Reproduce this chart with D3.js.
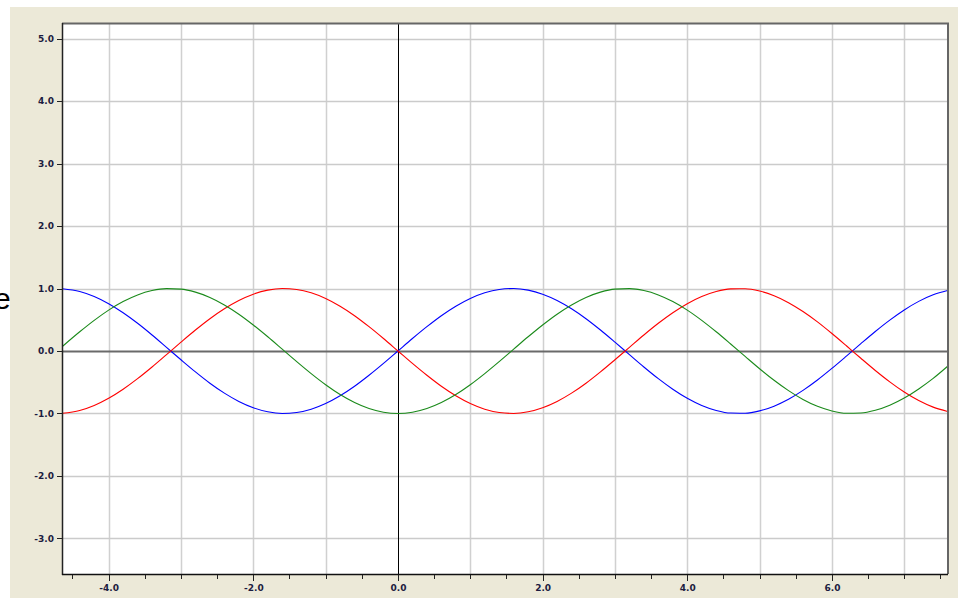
<html>
<head>
	<meta charset="utf-8">
	<title>sin / cos</title>
	<script src="https://d3js.org/d3.v7.min.js"></script>
	<style type="text/css">
		body{ margin:0; background:white; }
		.axis path{ display:none; }
		.axis line{ stroke:#222; shape-rendering:crispEdges; }
		.axis text{
			font-family:"DejaVu Sans", Verdana, sans-serif;
			font-size:9px;
			font-weight:bold;
			fill:#1c1c40;
		}
	</style>
</head>
<body>
	<script type="text/javascript">

		// values
		var xs = [-4.64,-4.4,-4.2,-4.0,-3.8,-3.6,-3.4,-3.2,-3.0,-2.8,-2.6,-2.4,-2.2,-2.0,-1.8,-1.6,-1.4,-1.2,-1.0,-0.8,-0.6,-0.4,-0.2,
			0,0.2,0.4,0.6,0.8,1.0,1.2,1.4,1.6,1.8,2.0,2.2,2.4,2.6,2.8,3.0,3.2,3.4,3.6,3.8,4.0,4.2,4.4,4.6,4.8,5.0,5.2,5.4,5.6,5.8,6.0,
			6.2,6.4,6.6,6.8,7.0,7.2,7.4,7.6];
		var blue = [0.997,0.952,0.872,0.757,0.612,0.443,0.256,0.058,-0.141,-0.335,-0.516,-0.675,-0.808,-0.909,-0.974,-1.000,-0.985,-0.932,-0.841,-0.717,-0.565,-0.389,-0.199,
			0,0.199,0.389,0.565,0.717,0.841,0.932,0.985,1.000,0.974,0.909,0.808,0.675,0.516,0.335,0.141,-0.058,-0.256,-0.443,-0.612,-0.757,-0.872,-0.952,-0.994,-0.996,-0.959,-0.883,-0.773,-0.631,-0.465,-0.279,
			-0.083,0.117,0.312,0.494,0.657,0.794,0.899,0.968];
		var red = [-0.997,-0.952,-0.872,-0.757,-0.612,-0.443,-0.256,-0.058,0.141,0.335,0.516,0.675,0.808,0.909,0.974,1.000,0.985,0.932,0.841,0.717,0.565,0.389,0.199,
			0,-0.199,-0.389,-0.565,-0.717,-0.841,-0.932,-0.985,-1.000,-0.974,-0.909,-0.808,-0.675,-0.516,-0.335,-0.141,0.058,0.256,0.443,0.612,0.757,0.872,0.952,0.994,0.996,0.959,0.883,0.773,0.631,0.465,0.279,
			0.083,-0.117,-0.312,-0.494,-0.657,-0.794,-0.899,-0.968];
		var green = [0.072,0.307,0.490,0.654,0.791,0.897,0.967,0.998,0.990,0.942,0.857,0.737,0.589,0.416,0.227,0.029,-0.170,-0.362,-0.540,-0.697,-0.825,-0.921,-0.980,
			-1.000,-0.980,-0.921,-0.825,-0.697,-0.540,-0.362,-0.170,0.029,0.227,0.416,0.589,0.737,0.857,0.942,0.990,0.998,0.967,0.897,0.791,0.654,0.490,0.307,0.112,-0.087,-0.284,-0.469,-0.635,-0.776,-0.886,-0.960,
			-0.997,-0.993,-0.950,-0.869,-0.754,-0.608,-0.439,-0.245];
		var xLabels = [-4,-2,0,2,4,6];
		var xMinor = [-4.5,-4,-3.5,-3,-2.5,-2,-1.5,-1,-0.5,0,0.5,1,1.5,2,2.5,3,3.5,4,4.5,5,5.5,6,6.5,7,7.5];
		var xGrid = [-4,-3,-2,-1,1,2,3,4,5,6,7];
		var yLabels = [-3,-2,-1,0,1,2,3,4,5];
		var yGrid = [-3,-2,-1,1,2,3,4,5];

		var w = 962;
		var h = 598;
		// plot box edges (window.top is taken, so p* names)
		var pLeft = 62, pRight = 948, pTop = 23, pBottom = 574;

		var xScale = d3.scaleLinear()
			.domain([-4.645, 7.605])
			.range([pLeft, pRight]);
		var yScale = d3.scaleLinear()
			.domain([5.25, -3.57])
			.range([pTop, pBottom]);

		var svg = d3.select("body").append("svg")
			.attr("width", w)
			.attr("height", h)
			.style("display", "block");

		svg.append("rect")
			.attr("width", w)
			.attr("height", h)
			.attr("fill", "white");

		// cut off title letter on the far left
		svg.append("text")
			.text("e")
			.attr("x", -6)
			.attr("y", 309)
			.attr("font-family", "Liberation Sans, Arial, sans-serif")
			.attr("font-size", "30px")
			.attr("fill", "black");

		// beige panel
		svg.append("rect")
			.attr("x", 10)
			.attr("y", 7)
			.attr("width", 948)
			.attr("height", h - 7)
			.attr("fill", "#ece9d8");

		svg.append("rect")
			.attr("x", pLeft)
			.attr("y", pTop)
			.attr("width", pRight - pLeft)
			.attr("height", pBottom - pTop)
			.attr("fill", "white");

		// grid
		svg.append("g").selectAll("line")
			.data(xGrid)
			.enter()
			.append("line")
			.attr("x1", function(d){ return Math.round(xScale(d)) + 0.5; })
			.attr("x2", function(d){ return Math.round(xScale(d)) + 0.5; })
			.attr("y1", pTop)
			.attr("y2", pBottom)
			.attr("stroke", "#d0d0d0")
			.attr("stroke-width", 1.5);

		svg.append("g").selectAll("line")
			.data(yGrid)
			.enter()
			.append("line")
			.attr("y1", function(d){ return Math.round(yScale(d)) + 0.5; })
			.attr("y2", function(d){ return Math.round(yScale(d)) + 0.5; })
			.attr("x1", pLeft)
			.attr("x2", pRight)
			.attr("stroke", "#cbcbcb")
			.attr("stroke-width", 1.5);

		// zero lines
		svg.append("line")
			.attr("x1", pLeft)
			.attr("x2", pRight)
			.attr("y1", Math.round(yScale(0)) + 0.5)
			.attr("y2", Math.round(yScale(0)) + 0.5)
			.attr("stroke", "#6a6a6a")
			.attr("stroke-width", 2);
		svg.append("line")
			.attr("x1", Math.round(xScale(0)) + 0.5)
			.attr("x2", Math.round(xScale(0)) + 0.5)
			.attr("y1", pTop)
			.attr("y2", pBottom)
			.attr("stroke", "black")
			.attr("stroke-width", 1);

		// curves
		svg.append("clipPath")
			.attr("id", "plot")
			.append("rect")
			.attr("x", pLeft)
			.attr("y", pTop)
			.attr("width", pRight - pLeft)
			.attr("height", pBottom - pTop);

		var line = d3.line()
			.x(function(d){ return xScale(d[0]); })
			.y(function(d){ return yScale(d[1]); })
			.curve(d3.curveMonotoneX);

		var series = [
			{color:"#0000ff", values:blue},
			{color:"#ff0000", values:red},
			{color:"#1a8a1a", values:green}
		];

		svg.append("g")
			.attr("clip-path", "url(#plot)")
			.selectAll("path")
			.data(series)
			.enter()
			.append("path")
			.attr("d", function(s){ return line(xs.map(function(x, i){ return [x, s.values[i]]; })); })
			.attr("fill", "none")
			.attr("stroke", function(s){ return s.color; })
			.attr("stroke-width", 1.1);

		// frame
		svg.append("line")
			.attr("x1", pLeft).attr("x2", pRight + 1)
			.attr("y1", pTop + 0.5).attr("y2", pTop + 0.5)
			.attr("stroke", "#666").attr("stroke-width", 2);
		svg.append("line")
			.attr("x1", pRight).attr("x2", pRight)
			.attr("y1", pTop).attr("y2", pBottom)
			.attr("stroke", "#666").attr("stroke-width", 2);
		svg.append("line")
			.attr("x1", pLeft + 0.5).attr("x2", pLeft + 0.5)
			.attr("y1", pTop).attr("y2", pBottom + 1)
			.attr("stroke", "#222").attr("stroke-width", 1.5);
		svg.append("line")
			.attr("x1", pLeft).attr("x2", pRight)
			.attr("y1", pBottom + 0.5).attr("y2", pBottom + 0.5)
			.attr("stroke", "#111").attr("stroke-width", 1.5);

		// axes
		var xMinorAxis = d3.axisBottom(xScale)
			.tickValues(xMinor)
			.tickSize(4)
			.tickFormat("");
		svg.append("g")
			.attr("class", "axis")
			.attr("transform", "translate(0," + (pBottom + 1) + ")")
			.call(xMinorAxis);

		var xAxis = d3.axisBottom(xScale)
			.tickValues(xLabels)
			.tickSize(6)
			.tickPadding(4)
			.tickFormat(function(d){ return d.toFixed(1); });
		svg.append("g")
			.attr("class", "axis")
			.attr("transform", "translate(0," + (pBottom + 1) + ")")
			.call(xAxis);

		var yAxis = d3.axisLeft(yScale)
			.tickValues(yLabels)
			.tickSize(5)
			.tickPadding(3)
			.tickFormat(function(d){ return d.toFixed(1); });
		svg.append("g")
			.attr("class", "axis")
			.attr("transform", "translate(" + pLeft + ",0)")
			.call(yAxis);

	</script>
</body>
</html>
